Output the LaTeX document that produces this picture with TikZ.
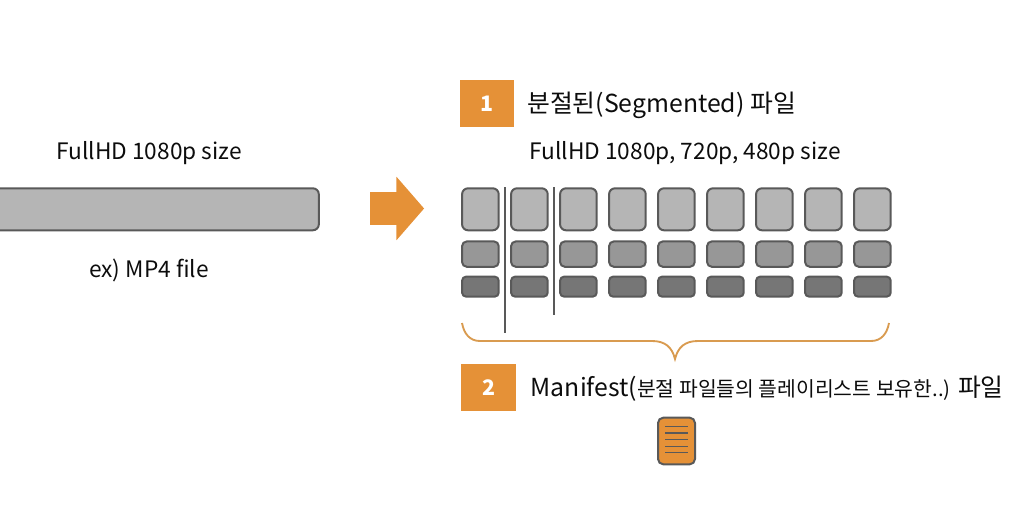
\documentclass[tikz,border=0pt]{standalone}
\usepackage{xcolor}
\usepackage{fontspec}
\setmainfont{Noto Sans CJK KR}
\usetikzlibrary{shapes, arrows, positioning}

\begin{document}
\begin{tikzpicture}[x=0.75pt, y=-0.75pt, node distance=36.75pt, on grid]

\definecolor{my_orange}{RGB}{229,145,55}
\definecolor{my_orange_line}{RGB}{217,155,80}
\definecolor{my_gray_light}{RGB}{181,181,181}
\definecolor{my_gray}{RGB}{151,151,151}
\definecolor{my_gray_dark}{RGB}{118,118,118}
\definecolor{my_border}{RGB}{89,89,89}
\definecolor{my_text}{RGB}{12,12,12}

\tikzstyle{seg_high} = [rectangle, draw=my_border, line width=1.5pt, fill=my_gray_light, rounded corners=4.5pt, minimum width=27.5pt, minimum height=31.5pt, inner sep=0pt]
\tikzstyle{seg_mid} = [seg_high, fill=my_gray, rounded corners=3.5pt, minimum height=19pt]
\tikzstyle{seg_low} = [seg_high, fill=my_gray_dark, rounded corners=3pt, minimum height=15pt]
\tikzstyle{badge} = [rectangle, fill=my_orange, text=white, font=\fontsize{16}{18}\selectfont\bfseries, inner sep=0pt]
\tikzstyle{label} = [text=my_text, font=\fontsize{17}{20}\selectfont, inner sep=0pt, text height=.8em, text depth=.2em]
\tikzstyle{title} = [label, font=\fontsize{18.6}{22}\selectfont, anchor=west]
\tikzstyle{cut} = [draw=my_border, line width=1.2pt]
\tikzstyle{doc_line} = [draw=my_border, line width=1.1pt]

\useasboundingbox (0,0) rectangle (1021,521);

	\begin{scope}
	\clip (0,0) rectangle (1021,521);
	\node [seg_high, minimum width=246.5pt] (source) at (154.5,209.3) {};
	\end{scope}
	\node [label] (source_size) at (149,155) {FullHD 1080p size};
	\node [label] (source_type) at (149,273) {ex) MP4 file};

	\node [single arrow, fill=my_orange, inner xsep=0pt, inner ysep=12pt, minimum height=40.5pt, single arrow head extend=11.6pt, single arrow tip angle=98, single arrow head indent=0pt] (arrow) at (390,208.5) {};

	\node [seg_high] (seg_a1) at (480.4,209.3) {};
	\node [seg_high, right=of seg_a1] (seg_a2) {};
	\node [seg_high, right=of seg_a2] (seg_a3) {};
	\node [seg_high, right=of seg_a3] (seg_a4) {};
	\node [seg_high, right=of seg_a4] (seg_a5) {};
	\node [seg_high, right=of seg_a5] (seg_a6) {};
	\node [seg_high, right=of seg_a6] (seg_a7) {};
	\node [seg_high, right=of seg_a7] (seg_a8) {};
	\node [seg_high, right=of seg_a8] (seg_a9) {};

	\node [seg_mid, below=33.6pt of seg_a1] (seg_b1) {};
	\node [seg_mid, right=of seg_b1] (seg_b2) {};
	\node [seg_mid, right=of seg_b2] (seg_b3) {};
	\node [seg_mid, right=of seg_b3] (seg_b4) {};
	\node [seg_mid, right=of seg_b4] (seg_b5) {};
	\node [seg_mid, right=of seg_b5] (seg_b6) {};
	\node [seg_mid, right=of seg_b6] (seg_b7) {};
	\node [seg_mid, right=of seg_b7] (seg_b8) {};
	\node [seg_mid, right=of seg_b8] (seg_b9) {};

	\node [seg_low, below=24.4pt of seg_b1] (seg_c1) {};
	\node [seg_low, right=of seg_c1] (seg_c2) {};
	\node [seg_low, right=of seg_c2] (seg_c3) {};
	\node [seg_low, right=of seg_c3] (seg_c4) {};
	\node [seg_low, right=of seg_c4] (seg_c5) {};
	\node [seg_low, right=of seg_c5] (seg_c6) {};
	\node [seg_low, right=of seg_c6] (seg_c7) {};
	\node [seg_low, right=of seg_c7] (seg_c8) {};
	\node [seg_low, right=of seg_c8] (seg_c9) {};

	\node [badge, minimum width=40.5pt, minimum height=35.25pt] (badge_one) at (487,103.5) {1};
	\node [title] (title_one) at (527,108) {분절된(Segmented) 파일};
	\node [label] (seg_size) at (685,155) {FullHD 1080p, 720p, 480p size};

	\node [coordinate] (cut1_top) at (505,187) {};
	\node [coordinate] (cut1_end) at (505,333) {};
	\node [coordinate] (cut2_top) at (554,187) {};
	\node [coordinate] (cut2_end) at (554,315) {};
	\draw [cut] (cut1_top) -- (cut1_end);
	\draw [cut] (cut2_top) -- (cut2_end);

	\node [coordinate] (brace_left) at (462,323) {};
	\node [coordinate] (brace_right) at (889,323) {};
	\node [coordinate] (brace_tip) at (675,359) {};
	\draw [draw=my_orange_line, line width=1.4pt] (brace_left) .. controls (464,334) and (470,341) .. (480,341) -- (652,341) .. controls (665,341) and (672,347) .. (brace_tip) .. controls (678,347) and (685,341) .. (698,341) -- (871,341) .. controls (881,341) and (887,334) .. (brace_right);

	\node [badge, minimum width=41.25pt, minimum height=35.25pt] (badge_two) at (488.5,387.5) {2};
	\node [title] (title_two) at (530.5,392) {Manifest({\fontsize{15.3}{18}\selectfont 분절 파일들의 플레이리스트 보유한..)} 파일};

	\node [rectangle, draw=my_border, line width=1.5pt, fill=my_orange, rounded corners=4pt, minimum width=27.75pt, minimum height=35pt, inner sep=0pt] (doc) at (676.5,441) {};
	\draw [doc_line] ([xshift=-8.3pt, yshift=10.8pt]doc.center) -- ([xshift=8.3pt, yshift=10.8pt]doc.center);
	\draw [doc_line] ([xshift=-8.3pt, yshift=6pt]doc.center) -- ([xshift=8.3pt, yshift=6pt]doc.center);
	\draw [doc_line] ([xshift=-8.3pt, yshift=1pt]doc.center) -- ([xshift=8.3pt, yshift=1pt]doc.center);
	\draw [doc_line] ([xshift=-8.3pt, yshift=-4pt]doc.center) -- ([xshift=8.3pt, yshift=-4pt]doc.center);
	\draw [doc_line] ([xshift=-8.3pt, yshift=-8.5pt]doc.center) -- ([xshift=8.3pt, yshift=-8.5pt]doc.center);

\end{tikzpicture}
\end{document}
